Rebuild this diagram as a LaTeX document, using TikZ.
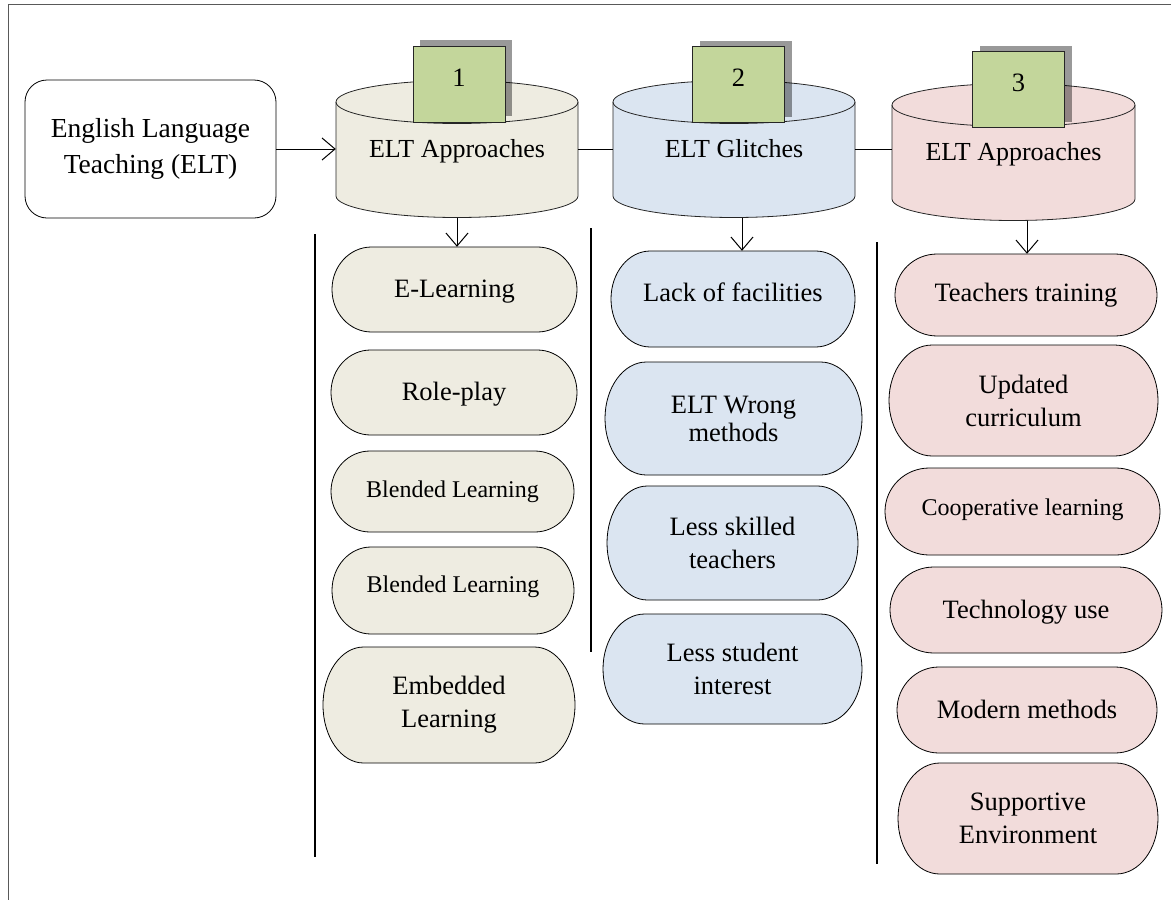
\documentclass[tikz,border=0pt]{standalone}
\usepackage{fontspec}
\setmainfont{Liberation Serif}
\usetikzlibrary{arrows.meta,shadows,calc}
\definecolor{tanc}{HTML}{EEECE1}
\definecolor{bluec}{HTML}{DBE5F1}
\definecolor{pinkc}{HTML}{F2DCDB}
\definecolor{greenc}{HTML}{C3D69B}
% #1 fill style, #2 node options, #3 name, #4 cx, #5 cy, #6 w, #7 h, #8 text
\newcommand\pillnode[8]{%
  \path[pillline,#1] ({#4-#6/2+0.161*#6},{#5-#7/2}) -- ({#4+#6/2-0.161*#6},{#5-#7/2})
    arc[start angle=-90,end angle=90,x radius={0.161*#6},y radius={#7/2}]
    -- ({#4-#6/2+0.161*#6},{#5+#7/2})
    arc[start angle=90,end angle=270,x radius={0.161*#6},y radius={#7/2}] -- cycle;
  \node[pilltext,#2,minimum width=#6pt,minimum height=#7pt] (#3) at (#4,#5) {#8};
}
% #1 fill, #2 cx, #3 top cy, #4 bottom cy, #5 rx, #6 ry
\newcommand\cylshape[6]{%
  \path[cylline,#1] ({#2-#5},#3) -- ({#2-#5},#4)
    arc[start angle=180,end angle=0,x radius=#5,y radius=#6]
    -- ({#2+#5},#3)
    arc[start angle=0,end angle=-180,x radius=#5,y radius=#6] -- cycle;
  \draw[cylline] ({#2-#5},#3) arc[start angle=180,end angle=0,x radius=#5,y radius=#6];
}
\begin{document}
\begin{tikzpicture}[x=1pt,y=-1pt,
  frame/.style={draw=black!65,line width=0.9pt},
  pillline/.style={draw=black,line width=0.8pt},
  cylline/.style={draw=black!85,line width=0.8pt},
  tanfill/.style={fill=tanc},
  bluefill/.style={fill=bluec},
  pinkfill/.style={fill=pinkc},
  pilltext/.style={font=\fontsize{26.5}{33}\selectfont,align=center,inner sep=0pt},
  oneline/.style={text height=18pt,text depth=#1},
  oneline/.default=6pt,
  smalltext/.style={font=\fontsize{24}{30}\selectfont},
  cyltext/.style={font=\fontsize{26}{33}\selectfont,inner sep=0pt,text height=18pt,text depth=2pt},
  numbox/.style={draw=black!85,line width=0.7pt,fill=greenc,minimum width=92pt,minimum height=76pt,
    inner sep=0pt,font=\fontsize{26.5}{30}\selectfont,text height=18pt,text depth=14pt,
    drop shadow={shadow xshift=7pt,shadow yshift=6pt,fill=black,opacity=0.4}},
  eltbox/.style={draw=black,line width=0.8pt,rounded corners=22pt,minimum width=251pt,minimum height=138pt,
    inner sep=0pt,align=center,font=\fontsize{27.5}{36}\selectfont},
  arr/.style={-{Straight Barb[length=13pt,width=22pt]},line width=1pt,draw=black},
  link/.style={line width=1pt,draw=black},
  sep/.style={line width=1.3pt,draw=black}]
\useasboundingbox (0,0) rectangle (1171,900);
\fill[white] (0,0) rectangle (1171,900);
\draw[frame] (8,900) -- (8,4) -- (1171,4);

% cylinders
\cylshape{tanfill}{457}{102}{196}{121}{21.5}
\cylshape{bluefill}{734}{102}{196}{121}{21.5}
\cylshape{pinkfill}{1013.5}{105}{199}{121.5}{21.5}
\node[cyltext,minimum width=242pt,minimum height=137pt] (cylA) at (457,149) {ELT Approaches};
\node[cyltext,minimum width=242pt,minimum height=137pt] (cylB) at (734,149) {ELT Glitches};
\node[cyltext,minimum width=243pt,minimum height=137pt] (cylC) at (1013.5,152) {ELT Approaches};

% number boxes
\node[numbox] (num1) at (459,84) {1};
\node[numbox] (num2) at (738.5,84.5) {2};
\node[numbox] (num3) at (1018.5,89.5) {3};

% start box
\node[eltbox] (elt) at (150.5,149) {English Language\\Teaching (ELT)};

% column 1
\pillnode{tanfill}{oneline=2pt}{a1}{454.5}{289.5}{245}{85}{E-Learning}
\pillnode{tanfill}{oneline=2pt}{a2}{454}{392.5}{246}{85}{Role-play}
\pillnode{tanfill}{oneline=6pt,smalltext}{a3}{452.5}{491.5}{243}{81}{Blended Learning}
\pillnode{tanfill}{oneline=14pt,smalltext}{a4}{453}{590.5}{242}{87}{Blended Learning}
\pillnode{tanfill}{}{a5}{449}{705}{252}{116}{Embedded\\Learning}

% column 2
\pillnode{bluefill}{oneline=14pt}{b1}{733}{299}{244}{96}{Lack of facilities}
\pillnode{bluefill}{font=\fontsize{26.5}{28}\selectfont}{b2}{733.5}{418.5}{257}{113}{ELT Wrong\\methods}
\pillnode{bluefill}{}{b3}{732.5}{543}{251}{114}{Less skilled\\teachers}
\pillnode{bluefill}{}{b4}{732.5}{669}{259}{110}{Less student\\interest}

% column 3
\pillnode{pinkfill}{oneline=6pt}{c1}{1026}{295}{262}{82}{Teachers training}
\pillnode{pinkfill}{}{c2}{1023.5}{400.5}{269}{111}{Updated\\curriculum}
\pillnode{pinkfill}{oneline=10pt,smalltext}{c3}{1022.5}{511.5}{275}{87}{Cooperative learning}
\pillnode{pinkfill}{oneline=2pt}{c4}{1026}{610}{272}{86}{Technology use}
\pillnode{pinkfill}{oneline=2pt}{c5}{1027}{710}{260}{86}{Modern methods}
\pillnode{pinkfill}{}{c6}{1028}{818.5}{260}{111}{Supportive\\Environment}

% separators
\coordinate (s1t) at (315,234);
\coordinate (s1b) at (315,857);
\coordinate (s2t) at (591,228);
\coordinate (s2b) at (591,652);
\coordinate (s3t) at (877,242);
\coordinate (s3b) at (877,864);
\draw[sep] (s1t) -- (s1b);
\draw[sep] (s2t) -- (s2b);
\draw[sep] (s3t) -- (s3b);

% connectors
\draw[arr] (elt.east) -- (cylA.west);
\draw[link] (cylA.east) -- (cylB.west);
\draw[link] (cylB.east) -- (cylB.east -| cylC.west);
\coordinate (xa) at (457,0);
\coordinate (xb) at (742,0);
\coordinate (xc) at (1027,0);
\draw[arr] (cylA.south -| xa) -- (xa |- a1.north);
\draw[arr] (cylB.south -| xb) -- (xb |- b1.north);
\draw[arr] (cylC.south -| xc) -- (xc |- c1.north);
\end{tikzpicture}
\end{document}
